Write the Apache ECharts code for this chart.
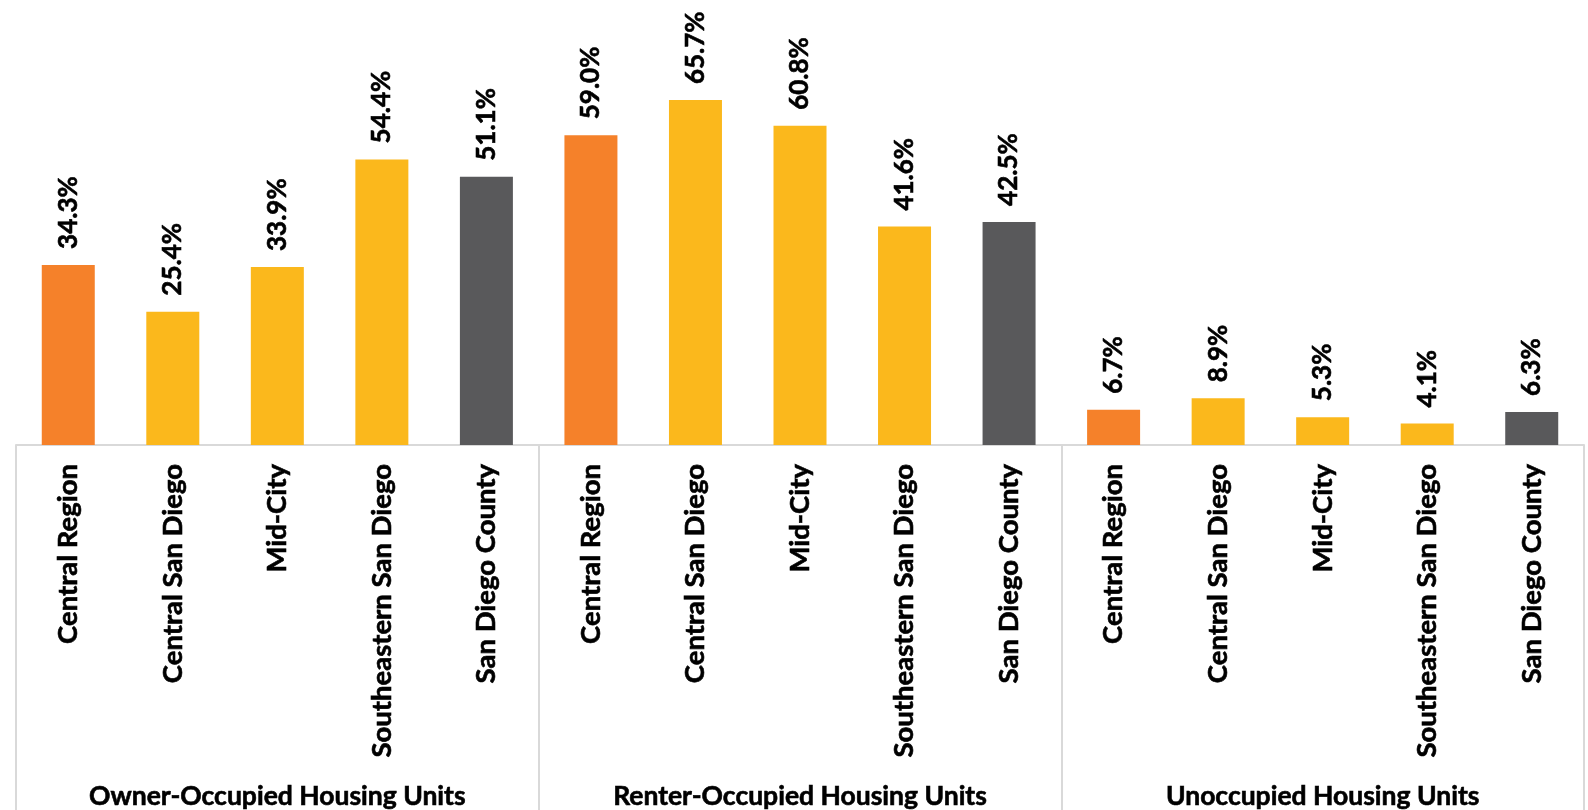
<!DOCTYPE html>
<html>
<head>
<meta charset="utf-8">
<script src="https://cdn.jsdelivr.net/npm/echarts@6/dist/echarts.min.js"></script>
<style>
  html, body {margin: 0; padding: 0; background: #fff;}
  #chart {width: 1588px; height: 810px;}
</style>
</head>
<body>
<div id="chart"></div>
<script>
// Housing occupancy by region, grouped by tenure type.

const regions = ["Central Region", "Central San Diego", "Mid-City", "Southeastern San Diego", "San Diego County"]
const groups = ["Owner-Occupied Housing Units", "Renter-Occupied Housing Units", "Unoccupied Housing Units"]

const ownerOccupied = [34.3, 25.4, 33.9, 54.4, 51.1]
const renterOccupied = [59.0, 65.7, 60.8, 41.6, 42.5]
const unoccupied = [6.7, 8.9, 5.3, 4.1, 6.3]

const regionColors = ["#f5812a", "#fbb81c", "#fbb81c", "#fbb81c", "#59595b"]

const FONT = "Lato"
const LINE = "#d9d9d9"
const TEXT = "#000"

const groupValues = [ownerOccupied, renterOccupied, unoccupied]
const categories = groups.flatMap(() => regions)
const barData = groupValues.flatMap(values =>
  values.map((v, i) => ({value: v, itemStyle: {color: regionColors[i]}}))
)

// Lato Bold is a touch lighter than the original face; a thin stroke evens it out.
const boldText = {
  color: TEXT,
  fontFamily: FONT,
  fontWeight: "bold",
  textBorderColor: TEXT,
  textBorderWidth: 0.6,
}

const chart = echarts.init(document.getElementById("chart"), null, {renderer: "canvas"})

chart.setOption({
  backgroundColor: "#fff",
  animation: false,
  grid: {left: 16, right: 4, top: 25, bottom: 365, outerBoundsMode: "none"},
  xAxis: [
    {
      type: "category",
      data: categories,
      position: "bottom",
      axisLine: {lineStyle: {color: LINE, width: 2}},
      axisTick: {show: false},
      axisLabel: {
        ...boldText,
        interval: 0,
        rotate: 90,
        margin: 19,
        fontSize: 27.5,
      },
      splitLine: {show: false},
    },
    {
      type: "category",
      data: groups,
      position: "bottom",
      axisLine: {show: false},
      axisTick: {show: true, length: 365, lineStyle: {color: LINE, width: 2}},
      axisLabel: {
        ...boldText,
        interval: 0,
        margin: 338,
        fontSize: 26.5,
      },
      splitLine: {show: false},
    },
  ],
  yAxis: {
    type: "value",
    min: 0,
    max: 80,
    show: false,
    splitLine: {show: false},
  },
  series: [
    {
      type: "bar",
      xAxisIndex: 0,
      data: barData,
      barWidth: 53,
      label: {
        ...boldText,
        show: true,
        position: "top",
        rotate: 90,
        align: "left",
        verticalAlign: "middle",
        distance: 16,
        fontSize: 26,
        formatter: p => `${p.value.toFixed(1)}%`,
      },
    },
  ],
})
</script>
</body>
</html>
